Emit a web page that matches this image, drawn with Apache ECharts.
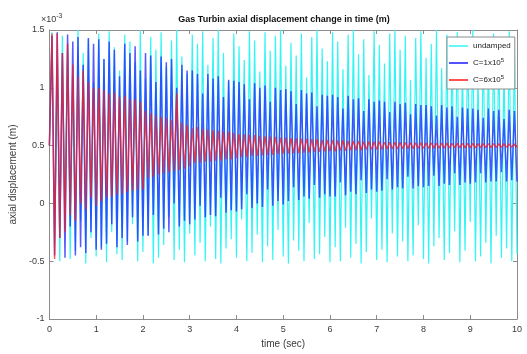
<!DOCTYPE html>
<html><head><meta charset="utf-8">
<script src="https://cdn.jsdelivr.net/npm/echarts@6/dist/echarts.min.js"></script>
<style>html,body{margin:0;padding:0;background:#fff}#c{width:527px;height:354px}</style>
</head><body><div id="c"></div>
<script>
// values in units of 1e-3 m
const seriesNames = ['undamped', 'C=1x10^5', 'C=6x10^5'];
const startValue = [0.5, 0.5, 0.5];
const xTicks = [0,1,2,3,4,5,6,7,8,9,10];
const yTicks = [-1,-0.5,0,0.5,1,1.5];

const undampedPeaks = [1.48,1.20,1.45,1.38,1.10,1.50,1.30,1.42,1.05,1.47,
1.25,1.49,1.35,1.15,1.46,1.40,1.22,1.50,1.08,1.44,
1.33,1.48,1.18,1.41,1.50,1.27,1.12,1.46,1.38,1.49,
1.20,1.43,1.50,1.30,1.06,1.47,1.36,1.24,1.49,1.41,
1.14,1.48,1.32,1.45,1.50,1.19,1.39,1.28,1.47,1.09,
1.44,1.50,1.34,1.23,1.48,1.40,1.16,1.46,1.50,1.29,
1.42,1.11,1.49,1.37,1.21,1.47,1.50,1.33,1.45,1.07,
1.43,1.49,1.26,1.38,1.50,1.17,1.46,1.35,1.48,1.24,
1.41,1.50,1.13,1.44,1.31,1.47,1.39,1.20,1.49,1.36];
const undampedTroughs = [-0.35,-0.50,-0.22,-0.48,-0.41,-0.15,-0.52,-0.30,-0.46,-0.38,
-0.51,-0.25,-0.44,-0.49,-0.33,-0.18,-0.50,-0.42,-0.28,-0.52,
-0.47,-0.36,-0.12,-0.49,-0.40,-0.51,-0.26,-0.45,-0.34,-0.50,
-0.20,-0.48,-0.52,-0.39,-0.31,-0.47,-0.14,-0.50,-0.43,-0.27,
-0.51,-0.37,-0.49,-0.23,-0.46,-0.52,-0.32,-0.41,-0.50,-0.17,
-0.48,-0.44,-0.29,-0.51,-0.38,-0.50,-0.21,-0.47,-0.35,-0.52,
-0.42,-0.13,-0.49,-0.40,-0.51,-0.26,-0.46,-0.33,-0.50,-0.45,
-0.19,-0.48,-0.52,-0.37,-0.30,-0.49,-0.43,-0.24,-0.51,-0.41,
-0.16,-0.50,-0.46,-0.34,-0.52,-0.28,-0.47,-0.39,-0.50,-0.44];

const c1Peaks = [1.45,1.48,1.30,1.46,1.40,1.44,1.20,1.43,1.38,
1.42,1.25,1.40,1.33,1.10,1.38,1.30,1.36,1.15,
1.30,1.28,1.05,1.27,1.22,1.25,1.00,1.20,1.15,
1.15,1.12,0.95,1.12,1.08,1.10,0.92,1.07,1.06,
1.05,1.03,0.90,1.04,1.00,1.02,0.88,1.00,0.98,
0.99,0.97,0.86,0.98,0.95,0.96,0.84,0.94,0.93,
0.94,0.92,0.82,0.93,0.90,0.91,0.80,0.90,0.88,
0.89,0.88,0.79,0.88,0.86,0.87,0.77,0.86,0.85,
0.85,0.84,0.76,0.85,0.83,0.84,0.75,0.83,0.82,
0.82,0.81,0.74,0.82,0.80,0.81,0.73,0.81,0.80];
const c1Troughs = [-0.45,-0.30,-0.47,-0.20,-0.45,-0.38,-0.43,-0.25,-0.40,
-0.40,-0.35,-0.18,-0.38,-0.30,-0.36,-0.12,-0.33,-0.28,
-0.28,-0.10,-0.27,-0.22,-0.25,0.00,-0.20,-0.15,-0.18,
-0.14,-0.02,-0.12,-0.10,-0.11,0.05,-0.08,-0.06,-0.07,
-0.05,0.08,-0.04,0.00,-0.03,0.12,-0.02,0.02,-0.01,
0.02,0.14,0.03,0.06,0.04,0.16,0.05,0.08,0.06,
0.06,0.18,0.07,0.10,0.08,0.20,0.09,0.12,0.10,
0.11,0.21,0.12,0.14,0.13,0.23,0.13,0.15,0.14,
0.15,0.24,0.15,0.17,0.16,0.26,0.16,0.18,0.17,
0.18,0.26,0.18,0.19,0.19,0.27,0.19,0.20,0.19];

const c6Peaks = [1.47,1.47,1.30,1.38,1.20,1.10,1.15,1.05,1.00,
1.00,0.98,0.95,0.96,0.92,0.93,0.90,0.90,0.88,
0.80,0.78,0.76,0.75,0.74,0.72,0.95,0.70,0.68,
0.65,0.66,0.64,0.64,0.63,0.63,0.62,0.62,0.61,
0.60,0.60,0.59,0.59,0.585,0.58,0.58,0.575,0.57,
0.57,0.565,0.565,0.56,0.56,0.555,0.555,0.55,0.55,
0.55,0.545,0.545,0.54,0.54,0.54,0.535,0.535,0.535,
0.535,0.53,0.53,0.53,0.528,0.527,0.526,0.525,0.525,
0.525,0.524,0.523,0.522,0.521,0.52,0.52,0.52,0.519,
0.519,0.518,0.518,0.517,0.517,0.516,0.516,0.515,0.515];
const c6Troughs = [-0.48,-0.30,-0.25,-0.10,-0.15,0.00,-0.05,0.05,-0.02,
0.02,0.05,0.06,0.08,0.08,0.10,0.11,0.12,0.12,
0.22,0.23,0.25,0.26,0.27,0.28,0.29,0.30,0.32,
0.35,0.35,0.36,0.36,0.37,0.37,0.38,0.38,0.39,
0.40,0.40,0.41,0.41,0.415,0.42,0.42,0.425,0.43,
0.43,0.435,0.435,0.44,0.44,0.445,0.445,0.45,0.45,
0.45,0.455,0.455,0.46,0.46,0.46,0.465,0.465,0.465,
0.465,0.47,0.47,0.47,0.472,0.473,0.474,0.475,0.475,
0.475,0.476,0.477,0.478,0.479,0.48,0.48,0.48,0.481,
0.481,0.482,0.482,0.483,0.483,0.484,0.484,0.485,0.485];

const T_END = 10;
function build(start, peaks, troughs) {
  const n = peaks.length * 2;
  const h = T_END / n;
  const out = [[0, start]];
  for (let k = 0; k < peaks.length; k++) {
    out.push([(2*k+1)*h, peaks[k]]);
    out.push([(2*k+2)*h, troughs[k]]);
  }
  return out;
}
const dataSets = [
  build(startValue[0], undampedPeaks, undampedTroughs),
  build(startValue[1], c1Peaks, c1Troughs),
  build(startValue[2], c6Peaks, c6Troughs)
];
const colors = ['#33f5f5', '#1a1aff', '#ff1a1a'];
const widths = [1.2, 1.5, 1.4];
const opac = [1, 0.72, 0.75];
const FONT = 'Liberation Sans, Arial, sans-serif';
const axisColor = '#8c8c8c';
const labelColor = '#3a3a3a';

const chart = echarts.init(document.getElementById('c'), null, {renderer: 'canvas'});
const nameMap = {'undamped': 'undamped', 'C=1x10^5': 'C=1x10{sup|5}', 'C=6x10^5': 'C=6x10{sup|5}'};
chart.setOption({
  animation: false,
  backgroundColor: '#fff',
  title: {
    text: 'Gas Turbin axial displacement change in time (m)',
    left: 279, top: 10, textAlign: 'center',
    textStyle: {fontFamily: FONT, fontSize: 9, fontWeight: 'bold', color: '#111'}
  },
  grid: {left: 41, right: 10, top: 30, bottom: 35, show: false},
  legend: {
    left: 447, top: 37, orient: 'vertical',
    data: seriesNames.map((n, i) => ({name: n, icon: 'rect', itemStyle: {color: colors[i], opacity: 1}})),
    itemWidth: 19, itemHeight: 1.5, itemGap: 7,
    padding: [5, 4, 5, 2],
    backgroundColor: '#fff', borderColor: '#8c8c8c', borderWidth: 1,
    formatter: n => nameMap[n],
    textStyle: {fontFamily: FONT, fontSize: 8, color: '#222',
      rich: {sup: {fontFamily: FONT, fontSize: 6, verticalAlign: 'bottom', padding: [0,0,6,0], color: '#222'}}}
  },
  xAxis: [{
    type: 'value', min: 0, max: 10, interval: 1,
    name: 'time (sec)', nameLocation: 'middle', nameGap: 20,
    nameTextStyle: {fontFamily: FONT, fontSize: 10, color: labelColor},
    axisLine: {show: true, onZero: false, lineStyle: {color: axisColor}},
    axisTick: {show: true, inside: true, length: 4, lineStyle: {color: axisColor}},
    axisLabel: {fontFamily: FONT, fontSize: 9, color: labelColor, margin: 6},
    splitLine: {show: false}
  }, {
    type: 'value', min: 0, max: 10, interval: 1, position: 'top',
    axisLine: {show: true, onZero: false, lineStyle: {color: axisColor}},
    axisTick: {show: true, inside: true, length: 4, lineStyle: {color: axisColor}},
    axisLabel: {show: false}, splitLine: {show: false}
  }],
  yAxis: [{
    type: 'value', min: -1, max: 1.5, interval: 0.5,
    name: 'axial displacement (m)', nameLocation: 'middle', nameGap: 25,
    nameTextStyle: {fontFamily: FONT, fontSize: 10, color: labelColor},
    axisLine: {show: true, onZero: false, lineStyle: {color: axisColor}},
    axisTick: {show: true, inside: true, length: 4, lineStyle: {color: axisColor}},
    axisLabel: {fontFamily: FONT, fontSize: 9, color: labelColor, margin: 5},
    splitLine: {show: false}
  }, {
    type: 'value', min: -1, max: 1.5, interval: 0.5, position: 'right',
    axisLine: {show: true, onZero: false, lineStyle: {color: axisColor}},
    axisTick: {show: true, inside: true, length: 4, lineStyle: {color: axisColor}},
    axisLabel: {show: false}, splitLine: {show: false}
  }],
  graphic: [{
    type: 'text', left: 41, top: 13,
    style: {text: '×10{sup|-3}', fontFamily: FONT, fontSize: 9, fill: labelColor,
      rich: {sup: {fontFamily: FONT, fontSize: 7, fill: labelColor, verticalAlign: 'bottom', padding: [0,0,6,0]}}}
  }],
  series: dataSets.map((d, i) => ({
    name: seriesNames[i], type: 'line', data: d, showSymbol: false, symbol: 'none',
    xAxisIndex: 0, yAxisIndex: 0,
    lineStyle: {color: colors[i], width: widths[i], opacity: opac[i]},
    itemStyle: {color: colors[i]},
    z: 2 + i
  }))
});
</script></body></html>
